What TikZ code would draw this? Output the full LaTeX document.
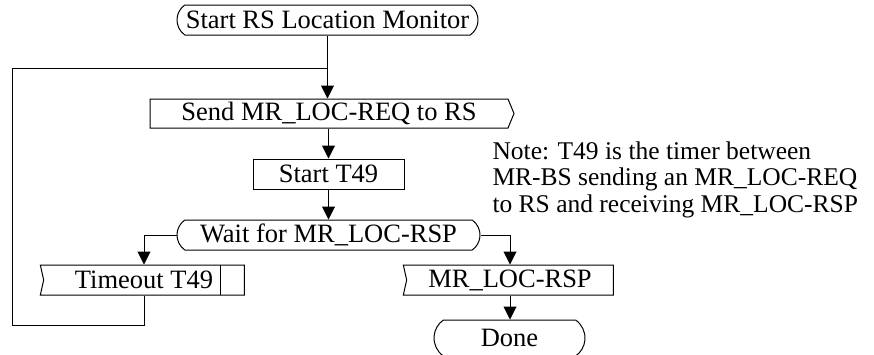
\documentclass[tikz,border=0pt]{standalone}
\usepackage{fontspec}
\setmainfont{Liberation Serif}
\usepackage{tikz}
\usetikzlibrary{arrows.meta, shapes.misc, shapes.symbols}

\begin{document}
\begin{tikzpicture}[x=1pt, y=-1pt,
			>={Triangle[width=13pt,length=13pt]},
			line width=1pt,
			font=\fontsize{26.5}{26.5}\selectfont,
			every node/.style={inner sep=0pt},
			term/.style={draw, rounded rectangle, rounded rectangle arc length=110, minimum height=30pt},
			task/.style={draw, rectangle, minimum height=30pt},
			sendbox/.style={draw, signal, signal to=east, signal pointer angle=135, minimum height=29pt},
			inbox/.style={draw, signal, signal from=west, signal to=nowhere, signal pointer angle=155, minimum height=30pt}]

			\useasboundingbox (0,0) rectangle (874,354);

			\node[term, minimum width=301pt] (start) at (327.5,20) {Start RS Location Monitor};
			\node[sendbox, minimum width=364pt] (send) at (329,113.5) {Send MR\_LOC-REQ to RS};
			\node[task, minimum width=151pt] (t49) at (328.5,174) {Start T49};
			\node[term, minimum width=303pt] (wait) at (328.5,235) {Wait for MR\_LOC-RSP};
			\node[inbox, minimum width=204pt] (tmo) at (144,280) {Timeout T49};
			\node[inbox, minimum width=210pt] (rsp) at (510,280) {MR\_LOC-RSP};
			\node[term, minimum width=151pt, minimum height=36pt] (done) at (509.5,338) {Done};
			\node[anchor=north west, align=left, font=\fontsize{25.5}{26.5}\selectfont] (note) at (492,141) {Note: T49 is the timer between\\MR-BS sending an MR\_LOC-REQ\\to RS and receiving MR\_LOC-RSP};

			\coordinate (ret) at (12,325);
			\coordinate (join) at (328,68);

			% timer mark in the timeout box
			\draw ([xshift=-24pt]tmo.north east) -- ([xshift=-24pt]tmo.south east);

			\draw[->] (start.south) -- (send.north -| start.south);
			\draw[->] (send.south -| t49.north) -- (t49.north);
			\draw[->] (t49.south) -- (wait.north -| t49.south);
			\draw[->] (wait.west) -| (tmo.north);
			\draw[->] (wait.east) -| (rsp.north);
			\draw[->] (rsp.south) -- (done.north -| rsp.south);
			\draw (tmo.south) |- (ret) |- (join);
		\end{tikzpicture}
\end{document}
